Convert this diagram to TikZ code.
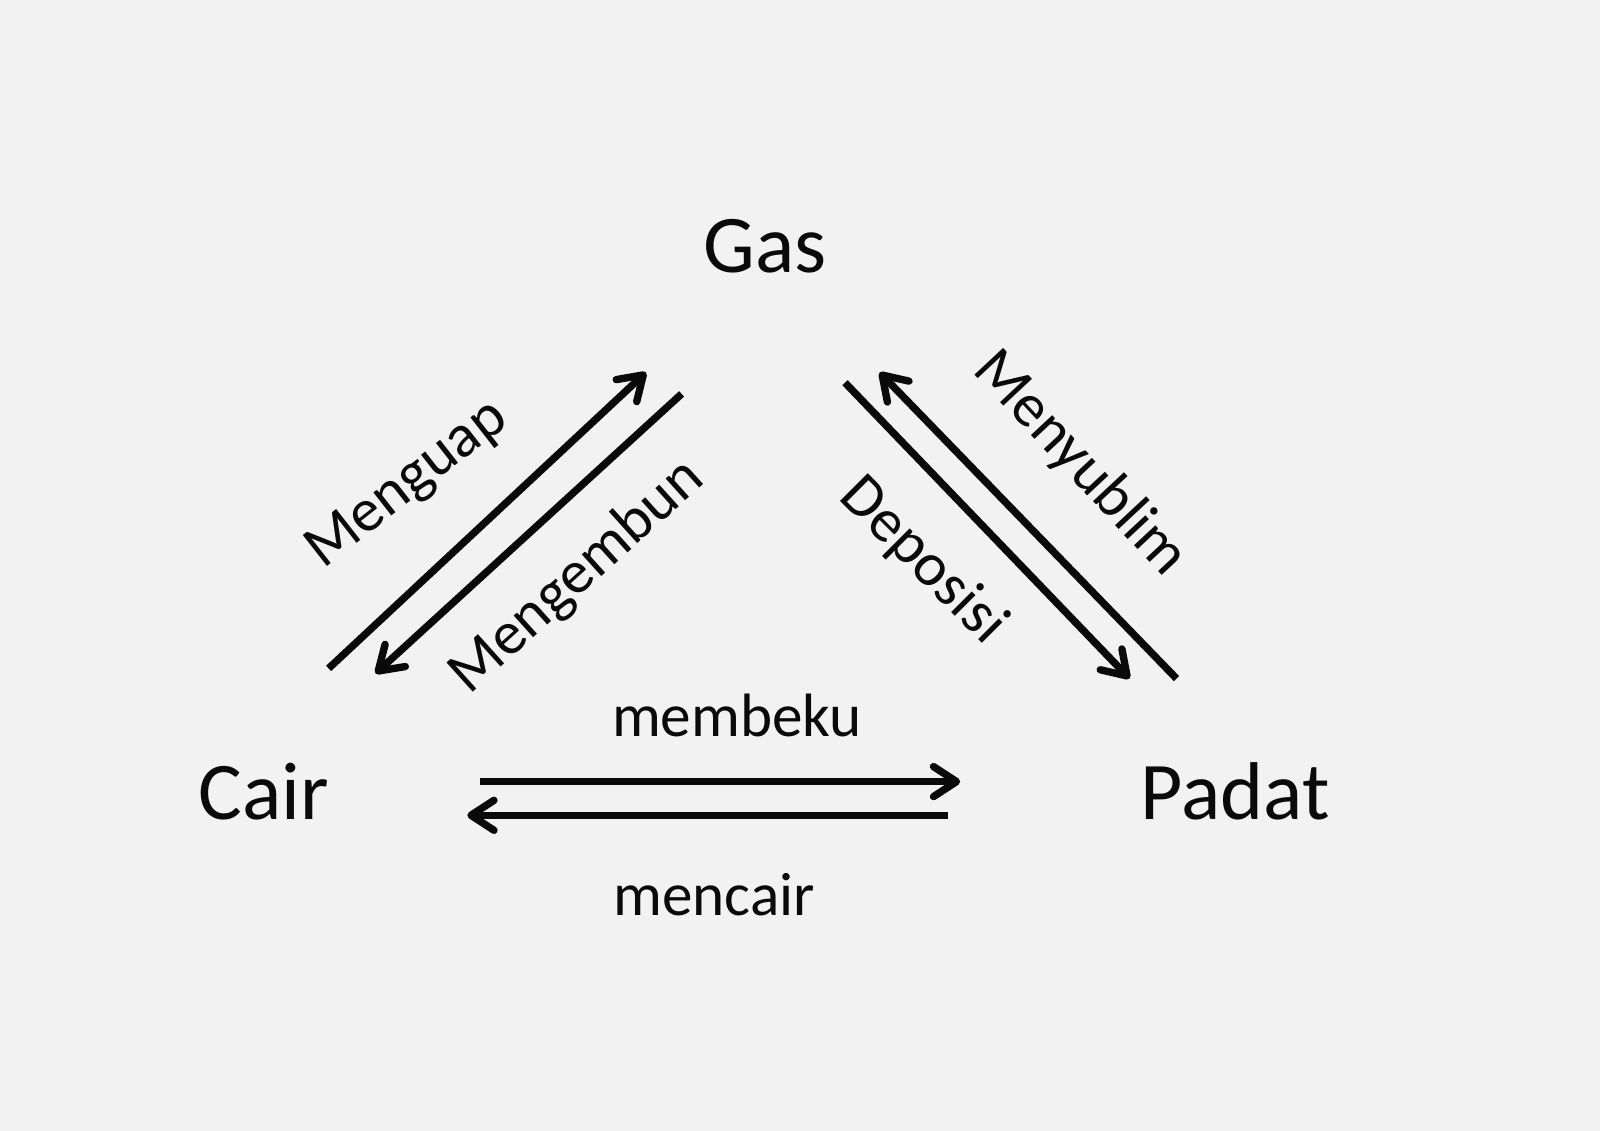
\documentclass[tikz,border=0pt]{standalone}
\usepackage{fontspec}
\setmainfont{Carlito}
\usepackage{xcolor}
\usepackage{tikz}
\usetikzlibrary{arrows.meta,positioning}
\definecolor{bggray}{RGB}{242,242,242}
\definecolor{inkblack}{RGB}{10,10,10}

\begin{document}
\begin{tikzpicture}[x=0.01cm, y=-0.01cm,
        phase/.style={anchor=base, text=inkblack, font=\fontsize{23.3}{28}\selectfont},
        proc/.style={text=inkblack, font=\fontsize{17.4}{21}\selectfont},
        flow/.style={-{Straight Barb[length=2.3mm, width=3mm, round]}, inkblack, line width=2.1pt}]
                \fill[bggray] (0,0) rectangle (1600,1131);

                \node[phase] (gas) at (765,273) {Gas};
                \node[phase] (cair) at (264,819) {Cair};
                \node[phase] (padat) at (1235,819) {Padat};

                \coordinate (menguapA) at (328.6,668.4);
                \coordinate (menguapB) at (646,372.4);
                \coordinate (mengembunA) at (681.6,393.9);
                \coordinate (mengembunB) at (375.5,673.5);
                \coordinate (deposisiA) at (845,382.7);
                \coordinate (deposisiB) at (1129.6,678.6);
                \coordinate (menyublimA) at (1176.5,678.6);
                \coordinate (menyublimB) at (879.6,372.4);
                \coordinate (membekuA) at (479.6,781.6);
                \coordinate (membekuB) at (960.2,781.6);
                \coordinate (mencairA) at (948,815.3);
                \coordinate (mencairB) at (467.3,815.3);

                \draw [flow] (menguapA) -- (menguapB);
                \draw [flow] (mengembunA) -- (mengembunB);
                \draw [flow] (deposisiA) -- (deposisiB);
                \draw [flow] (menyublimA) -- (menyublimB);
                \draw [flow] (membekuA) -- (membekuB);
                \draw [flow] (mencairA) -- (mencairB);

                \node[proc, rotate=38] (menguap) at (408,485) {Menguap};
                \node[proc, rotate=42] (mengembun) at (577,577) {Mengembun};
                \node[proc, rotate=-45] (deposisi) at (923,561) {Deposisi};
                \node[proc, rotate=-47] (menyublim) at (1080,464) {Menyublim};
                \node[proc, anchor=base] (membeku) at (737,737) {membeku};
                \node[proc, anchor=base] (mencair) at (714,915) {mencair};
\end{tikzpicture}
\end{document}
